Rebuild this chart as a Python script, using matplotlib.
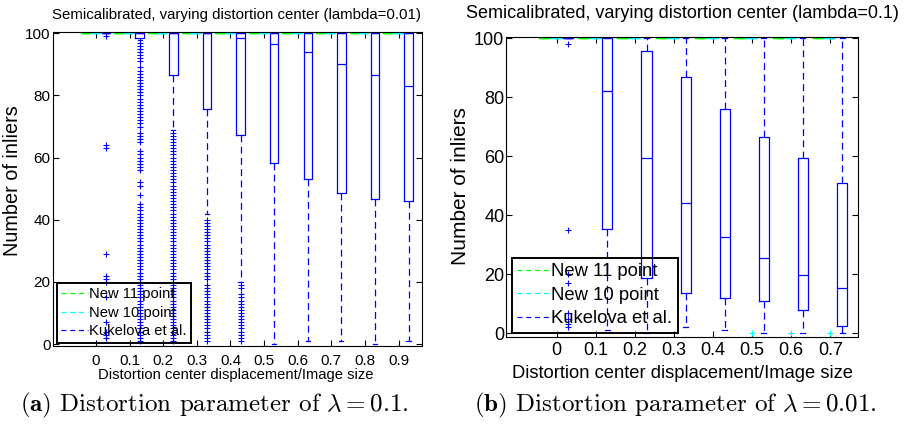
import matplotlib
matplotlib.use("Agg")
import matplotlib.pyplot as plt
from matplotlib.lines import Line2D

plt.rcParams['font.family'] = ['Liberation Sans', 'DejaVu Sans']
plt.rcParams['mathtext.fontset'] = 'cm'

# ---------------- data ----------------
# Left panel: lambda = 0.01
x_left = [0, 0.1, 0.2, 0.3, 0.4, 0.5, 0.6, 0.7, 0.8, 0.9]
xlabels_left = ["0", "0.1", "0.2", "0.3", "0.4", "0.5", "0.6", "0.7", "0.8", "0.9"]
kuk_med_left = [100, 100, 100, 100, 98.5, 96.5, 94, 90, 86.5, 83]
kuk_q1_left = [100, 98.5, 86.5, 75.6, 67.2, 58.2, 53.1, 48.7, 46.7, 46]
kuk_q3_left = [100, 100, 100, 100, 100, 100, 100, 100, 100, 100]
kuk_lo_left = [100, 98, 69, 42, 20, 0, 1, 1, 0, 1]
kuk_hi_left = [100, 100, 100, 100, 100, 100, 100, 100, 100, 100]
kuk_fl_left = [
    [99, 64, 63, 29, 22, 21, 20, 15, 7, 4, 3, 2],
    [97, 96, 95, 94, 93, 92, 91, 89, 88, 87, 86, 85, 84, 83, 82, 81, 80, 79, 78,
     77, 76, 75, 74, 73, 72, 71, 70, 68, 67, 66, 65, 62, 61, 60, 59, 58, 57, 56,
     52, 51, 48, 45, 44, 43, 42, 41, 40, 39, 38, 37, 36, 35, 34, 33, 32, 31, 30,
     29, 28, 27, 26, 25, 24, 23, 22, 21, 20, 19, 18, 17, 16, 15, 14, 13, 12, 11,
     10, 9, 8, 7, 6, 5, 4, 3, 2, 1],
    [68, 67, 66, 65, 64, 63, 62, 61, 60, 59, 58, 57, 56, 55, 54, 53, 52, 51, 50,
     49, 48, 47, 46, 45, 44, 43, 42, 41, 40, 39, 38, 37, 36, 35, 34, 33, 32, 31,
     30, 29, 28, 27, 26, 25, 24, 23, 22, 21, 20, 19, 18, 17, 16, 15, 14, 13, 12,
     11, 10, 9, 8, 7, 6, 5, 4, 3, 2, 1],
    [40, 39, 38, 37, 36, 35, 34, 33, 32, 31, 30, 29, 28, 27, 26, 25, 24, 23, 22,
     21, 19, 18, 17, 16, 15, 14, 13, 12, 11, 10, 9, 8, 7, 6, 5, 4, 3, 2, 1],
    [19, 18, 16, 15, 14, 13, 12, 11, 10, 9, 8, 7, 6, 5, 4, 3, 2, 1],
    [], [], [], [], [],
]
new11_left = [100, 100, 100, 100, 100, 100, 100, 100, 100, 100]
new10_left = [100, 100, 100, 100, 100, 100, 100, 100, 100, 100]

# Right panel: lambda = 0.1
x_right = [0, 0.1, 0.2, 0.3, 0.4, 0.5, 0.6, 0.7]
xlabels_right = ["0", "0.1", "0.2", "0.3", "0.4", "0.5", "0.6", "0.7"]
kuk_med_right = [100, 82, 59.5, 44.3, 32.5, 25.6, 19.7, 15.3]
kuk_q1_right = [100, 35.3, 18.6, 13.8, 11.9, 10.9, 7.8, 2.6]
kuk_q3_right = [100, 100, 95.8, 86.8, 75.9, 66.4, 59.5, 51.1]
kuk_lo_right = [100, 1, 0, 2, 1, 0, 0, 0]
kuk_hi_right = [100, 100, 100, 100, 100, 100, 100, 100]
kuk_fl_right = [[98, 35, 20, 17, 7, 5, 3, 2], [], [], [], [], [], [], []]
new11_right = [100, 100, 100, 100, 100, 100, 100, 100]
new10_right = [100, 100, 100, 100, 100, 100, 100, 100]
new10_fl_right = [[], [], [], [], [], [0], [0], [0]]

legend_labels = ["New 11 point", "New 10 point", "Kukelova et al."]
titles = ["Semicalibrated, varying distortion center (lambda=0.01)",
          "Semicalibrated, varying distortion center (lambda=0.1)"]
xlabel = "Distortion center displacement/Image size"
ylabel = "Number of inliers"
captions = [r"$\mathbf{(a)}$ Distortion parameter of $\lambda = 0.1$.",
            r"$\mathbf{(b)}$ Distortion parameter of $\lambda = 0.01$."]

# ---------------- figure ----------------
W, H = 909, 429
fig = plt.figure(figsize=(W / 100, H / 100), dpi=100)

def fbox(l, t, r, b):
    return [l / W, 1 - b / H, (r - l) / W, (b - t) / H]

axL = fig.add_axes(fbox(53.3, 32, 421.7, 346))
axR = fig.add_axes(fbox(505.7, 37, 857.7, 336.7))

GREEN = (0, 1, 0)
CYAN = (0, 1, 1)
BLUE = (0, 0, 1)
WHISK = (0, (5.5, 3.5))


def draw_group(ax, xs, med, q1, q3, lo, hi, fl, offset, width, color, fs, lw):
    stats = []
    for m, a, b, l, h, f in zip(med, q1, q3, lo, hi, fl):
        stats.append(dict(med=m, q1=a, q3=b, whislo=l, whishi=h, fliers=f))
    pos = [x + offset for x in xs]
    ax.bxp(stats, positions=pos, widths=width, capwidths=width / 2,
           manage_ticks=False, showfliers=True,
           boxprops=dict(color=color, lw=lw),
           medianprops=dict(color=color, lw=lw),
           whiskerprops=dict(color=color, lw=0.9, linestyle=WHISK),
           capprops=dict(color=color, lw=0.9),
           flierprops=dict(marker='+', markeredgecolor=color, markerfacecolor='none',
                           markersize=fs, markeredgewidth=0.8, linestyle='none'))


def panel(ax, xs, labels, n11, n10, n10fl, med, q1, q3, lo, hi, fl, width,
          xlim, ylim, fsz, fs_mark):
    empty = [[] for _ in xs]
    draw_group(ax, xs, n11, n11, n11, n11, n11, empty, -0.03, width, GREEN, fs_mark, 1.6)
    draw_group(ax, xs, n10, n10, n10, n10, n10, n10fl, 0.0, width, CYAN, fs_mark, 1.6)
    draw_group(ax, xs, med, q1, q3, lo, hi, fl, 0.03, width, BLUE, fs_mark, 0.9)
    ax.set_xlim(*xlim)
    ax.set_ylim(*ylim)
    ax.set_xticks(xs)
    ax.set_xticklabels(labels)
    ax.set_yticks([0, 20, 40, 60, 80, 100])
    ax.tick_params(direction='in', top=True, right=True, length=4, width=0.8,
                   labelsize=fsz, colors='black')
    for s in ax.spines.values():
        s.set_linewidth(0.8)


panel(axL, x_left, xlabels_left, new11_left, new10_left, [[] for _ in x_left],
      kuk_med_left, kuk_q1_left, kuk_q3_left, kuk_lo_left, kuk_hi_left, kuk_fl_left,
      0.025, (-0.127, 0.969), (-0.64, 100.42), 11, 4.5)
panel(axR, x_right, xlabels_right, new11_right, new10_right, new10_fl_right,
      kuk_med_right, kuk_q1_right, kuk_q3_right, kuk_lo_right, kuk_hi_right, kuk_fl_right,
      0.0256, (-0.13, 0.770), (-1.15, 100.44), 13, 4.5)

axL.tick_params(axis='x', pad=5.5)
axL.tick_params(axis='y', pad=2)
axR.tick_params(axis='x', pad=4)
axR.tick_params(axis='y', pad=1)

# titles and axis labels placed in figure pixels
fig.text(236 / W, 1 - 14.5 / H, titles[0], fontsize=10.8, ha='center', va='center')
fig.text(682 / W, 1 - 14 / H, titles[1], fontsize=13, ha='center', va='center')
fig.text(236 / W, 1 - 374.5 / H, xlabel, fontsize=10.6, ha='center', va='center')
fig.text(682 / W, 1 - 373 / H, xlabel, fontsize=13.2, ha='center', va='center')
fig.text(13 / W, 1 - 181 / H, ylabel, fontsize=14.3, ha='center', va='center', rotation=90)
fig.text(461 / W, 1 - 186 / H, ylabel, fontsize=15, ha='center', va='center', rotation=90)

# legends
def make_handles():
    return [Line2D([], [], color=c, lw=0.9, linestyle=(0, (4, 3)))
            for c in (GREEN, CYAN, BLUE)]

legL = axL.legend(make_handles(), legend_labels, loc='lower left',
                  bbox_to_anchor=(0.009, 0.0105), borderaxespad=0, fontsize=10.6,
                  frameon=True, fancybox=False, framealpha=1, facecolor='none',
                  edgecolor='black', handlelength=1.8, handletextpad=0.1,
                  borderpad=0.3, labelspacing=0.3)
legL.get_frame().set_linewidth(1.4)
legR = axR.legend(make_handles(), legend_labels, loc='lower left',
                  bbox_to_anchor=(0.017, 0.0133), borderaxespad=0, fontsize=13.3,
                  frameon=True, fancybox=False, framealpha=1, facecolor='none',
                  edgecolor='black', handlelength=1.75, handletextpad=0.1,
                  borderpad=0.3, labelspacing=0.35)
legR.get_frame().set_linewidth(1.4)

# captions
fig.text(214 / W, 1 - 405 / H, captions[0], fontsize=18, family='cmr10',
         ha='center', va='center')
fig.text(675 / W, 1 - 405 / H, captions[1], fontsize=18, family='cmr10',
         ha='center', va='center')

fig.savefig("out.png", dpi=100)
